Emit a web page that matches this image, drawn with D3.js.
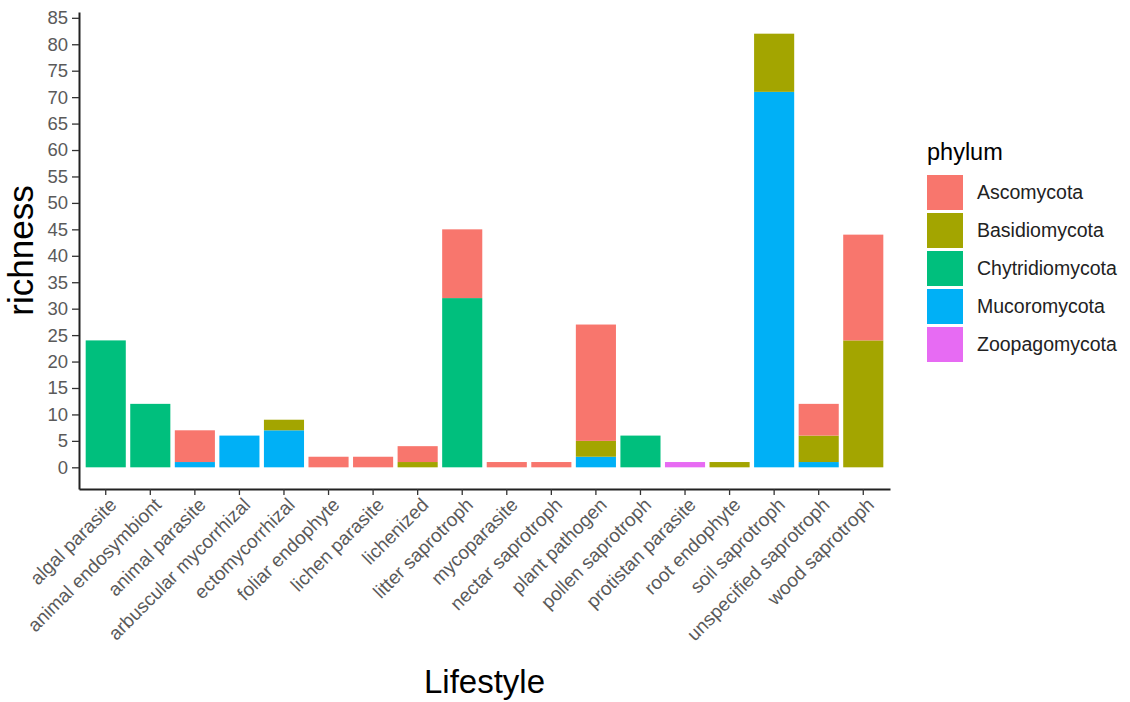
<!DOCTYPE html>
<html lang="en">
<head>
    <meta charset="UTF-8">
    <title>richness by lifestyle</title>
    <script src="https://cdn.jsdelivr.net/npm/d3@7"></script>
    <style>
        body { margin: 0; background: #fff; }
        text { font-family: "Liberation Sans", Arial, sans-serif; }
    </style>
</head>
<body>
<script type="text/javascript">
    // lifestyles on the x axis
    var lifestyles = ['algal parasite', 'animal endosymbiont', 'animal parasite', 'arbuscular mycorrhizal',
        'ectomycorrhizal', 'foliar endophyte', 'lichen parasite', 'lichenized', 'litter saprotroph',
        'mycoparasite', 'nectar saprotroph', 'plant pathogen', 'pollen saprotroph', 'protistan parasite',
        'root endophyte', 'soil saprotroph', 'unspecified saprotroph', 'wood saprotroph'];
    var phyla = ['Ascomycota', 'Basidiomycota', 'Chytridiomycota', 'Mucoromycota', 'Zoopagomycota'];
    var colors = ['#F8766D', '#A3A500', '#00BF7D', '#00B0F6', '#E76BF3'];

    // richness per phylum, one value per lifestyle
    var ascomycota      = [0, 0, 6, 0, 0, 2, 2, 3, 13, 1, 1, 22, 0, 0, 0, 0, 6, 20];
    var basidiomycota   = [0, 0, 0, 0, 2, 0, 0, 1, 0, 0, 0, 3, 0, 0, 1, 11, 5, 24];
    var chytridiomycota = [24, 12, 0, 0, 0, 0, 0, 0, 32, 0, 0, 0, 6, 0, 0, 0, 0, 0];
    var mucoromycota    = [0, 0, 1, 6, 7, 0, 0, 0, 0, 0, 0, 2, 0, 0, 0, 71, 1, 0];
    var zoopagomycota   = [0, 0, 0, 0, 0, 0, 0, 0, 0, 0, 0, 0, 0, 1, 0, 0, 0, 0];
    var yTicks = d3.range(0, 90, 5);

    var rows = lifestyles.map(function (l, i) {
        return {
            lifestyle: l,
            Ascomycota: ascomycota[i],
            Basidiomycota: basidiomycota[i],
            Chytridiomycota: chytridiomycota[i],
            Mucoromycota: mucoromycota[i],
            Zoopagomycota: zoopagomycota[i]
        };
    });
    // ggplot puts the first level on top, so stack in reverse
    var stack = d3.stack().keys(phyla.slice().reverse());
    var series = stack(rows);

    var svg = d3.select('body').append('svg')
            .attr('width', 1130)
            .attr('height', 702);

    var pLeft = 79, pRight = 890, pTop = 12, pBottom = 489;

    var x = d3.scaleBand()
            .domain(lifestyles)
            .range([pLeft, pRight])
            .paddingInner(0.1)
            .paddingOuter(0.15);
    var y = d3.scaleLinear()
            .domain([-4.1, 86.1])
            .range([pBottom, pTop]);
    var color = d3.scaleOrdinal().domain(phyla).range(colors);

    svg.selectAll('g.layer')
            .data(series)
            .enter()
            .append('g')
            .attr('class', 'layer')
            .attr('fill', function (d) { return color(d.key); })
            .selectAll('rect')
            .data(function (d) { return d.filter(function (s) { return s[1] - s[0] > 0; }); })
            .enter()
            .append('rect')
            .attr('x', function (d) { return x(d.data.lifestyle); })
            .attr('width', x.bandwidth())
            .attr('y', function (d) { return y(d[1]); })
            .attr('height', function (d) { return y(d[0]) - y(d[1]); });

    // axes
    var yAxis = svg.append('g')
            .attr('transform', 'translate(' + pLeft + ',0)')
            .call(d3.axisLeft(y).tickValues(yTicks).tickSize(7).tickPadding(4).tickSizeOuter(0));
    var xAxis = svg.append('g')
            .attr('transform', 'translate(0,' + pBottom + ')')
            .call(d3.axisBottom(x).tickSize(6).tickSizeOuter(0));

    [yAxis, xAxis].forEach(function (g) {
        g.select('.domain').attr('stroke', '#222').attr('stroke-width', 2);
        g.selectAll('.tick line').attr('stroke', '#333').attr('stroke-width', 1.3);
        g.selectAll('.tick text').attr('fill', '#5a5a5a').style('font-size', '18.5px');
    });

    xAxis.selectAll('.tick text')
            .style('font-size', '19px')
            .attr('text-anchor', 'end')
            .attr('y', 0)
            .attr('dy', '0.75em')
            .attr('transform', 'translate(2,7) rotate(-45)');

    // axis titles
    svg.append('text')
            .attr('x', (pLeft + pRight) / 2)
            .attr('y', 693)
            .attr('text-anchor', 'middle')
            .style('font-size', '33px')
            .text('Lifestyle');
    svg.append('text')
            .attr('transform', 'translate(33,' + (pTop + pBottom) / 2 + ') rotate(-90)')
            .attr('text-anchor', 'middle')
            .style('font-size', '35px')
            .text('richness');

    // legend
    var legend = svg.append('g').attr('transform', 'translate(927,0)');
    legend.append('text')
            .attr('x', 0)
            .attr('y', 160)
            .style('font-size', '23.5px')
            .text('phylum');
    var items = legend.selectAll('g.item')
            .data(phyla)
            .enter()
            .append('g')
            .attr('class', 'item')
            .attr('transform', function (d, i) { return 'translate(0,' + (175 + i * 38) + ')'; });
    items.append('rect')
            .attr('width', 36)
            .attr('height', 35)
            .attr('fill', function (d) { return color(d); });
    items.append('text')
            .attr('x', 50)
            .attr('y', 24)
            .style('font-size', '19.5px')
            .attr('fill', '#222')
            .text(function (d) { return d; });
</script>
</body>
</html>
